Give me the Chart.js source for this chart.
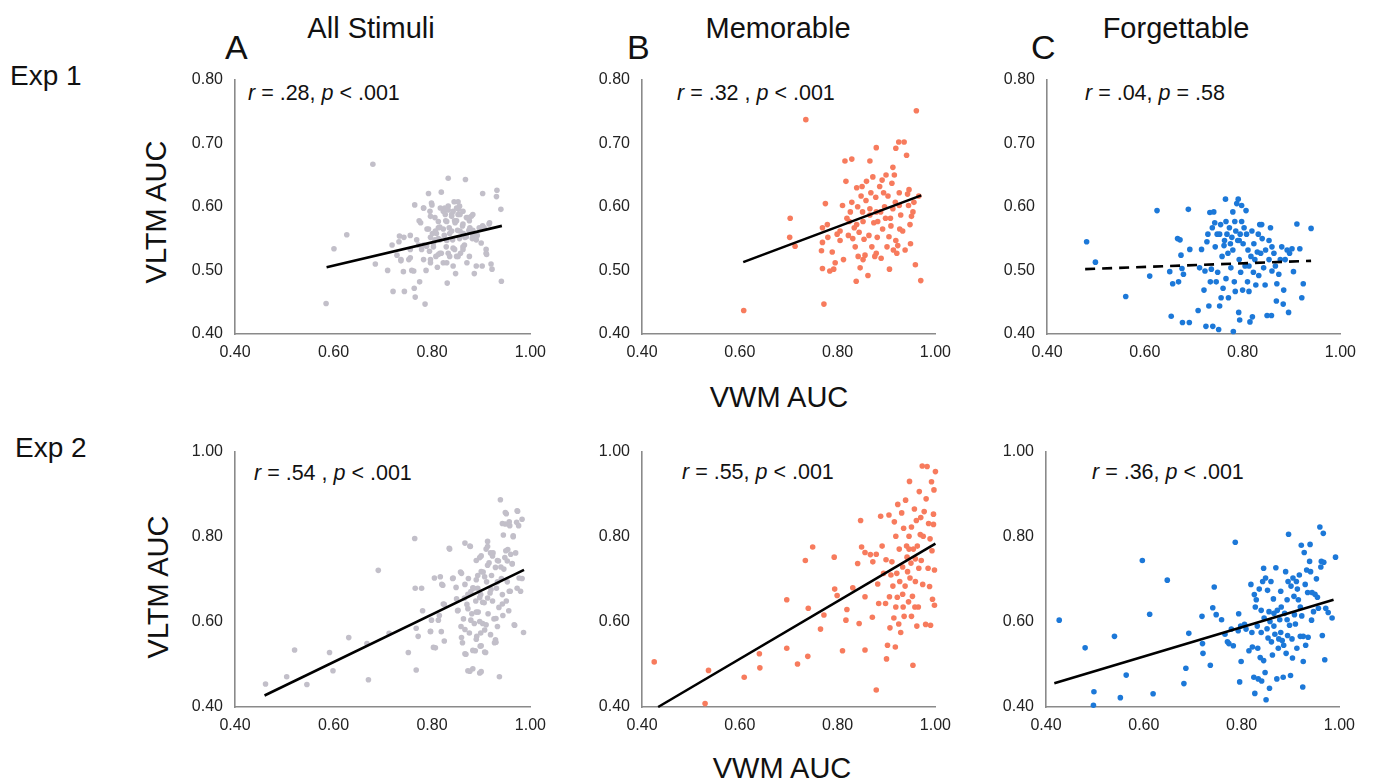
<!DOCTYPE html>
<html lang="en">
<head>
  <meta charset="UTF-8" />
  <title>VWM vs VLTM AUC</title>
  <script src="https://cdn.jsdelivr.net/npm/chart.js"></script>
  <style>
    body { margin: 0; background: #fff; font-family: "Liberation Sans", Arial, sans-serif; color: #111; }
    #page { position: relative; width: 1375px; height: 778px; overflow: hidden; }
    .t { position: absolute; white-space: nowrap; line-height: 1; }
    .title { font-size: 29px; transform: translateX(-50%); }
    .letter { font-size: 34px; }
    .exp { font-size: 28px; }
    .ylab { font-size: 29px; transform: translate(-50%, -50%) rotate(-90deg); }
    .xlab { font-size: 29px; transform: translateX(-50%); }
    .stat { font-size: 21.5px; }
    canvas { position: absolute; }
  </style>
</head>
<body>
<div id="page">
  <div class="t title" style="left:371px; top:14px;">All Stimuli</div>
  <div class="t title" style="left:778px; top:14px;">Memorable</div>
  <div class="t title" style="left:1176px; top:14px;">Forgettable</div>

  <div class="t letter" style="left:225px; top:30px;">A</div>
  <div class="t letter" style="left:627px; top:30px;">B</div>
  <div class="t letter" style="left:1031px; top:30px;">C</div>

  <div class="t exp" style="left:10px; top:62px;">Exp 1</div>
  <div class="t exp" style="left:15px; top:434px;">Exp 2</div>

  <div class="t ylab" style="left:156px; top:212px;">VLTM AUC</div>
  <div class="t ylab" style="left:158px; top:587px;">VLTM AUC</div>
  <div class="t xlab" style="left:779px; top:383px;">VWM AUC</div>
  <div class="t xlab" style="left:782px; top:754px;">VWM AUC</div>

  <div class="t stat" style="left:248px; top:83px;"><i>r</i> = .28, <i>p</i> &lt; .001</div>
  <div class="t stat" style="left:677px; top:83px;"><i>r</i> = .32 , <i>p</i> &lt; .001</div>
  <div class="t stat" style="left:1085px; top:83px;"><i>r</i> = .04, <i>p</i> = .58</div>
  <div class="t stat" style="left:254px; top:463px;"><i>r</i> = .54 , <i>p</i> &lt; .001</div>
  <div class="t stat" style="left:682px; top:462px;"><i>r</i> = .55, <i>p</i> &lt; .001</div>
  <div class="t stat" style="left:1092px; top:462px;"><i>r</i> = .36, <i>p</i> &lt; .001</div>

  <canvas id="a1"></canvas>
  <canvas id="b1"></canvas>
  <canvas id="c1"></canvas>
  <canvas id="a2"></canvas>
  <canvas id="b2"></canvas>
  <canvas id="c2"></canvas>
</div>

<script>
  // tick values
  const xTicks = [0.4, 0.6, 0.8, 1.0];
  const yTicksExp1 = [0.4, 0.5, 0.6, 0.7, 0.8];
  const yTicksExp2 = [0.4, 0.6, 0.8, 1.0];

  // Exp 1 points, [VWM AUC, VLTM AUC]
  const exp1All = [[0.585,0.448],[0.601,0.534],[0.627,0.556],[0.680,0.667],[0.685,0.510],[0.710,0.500],[0.719,0.540],[0.721,0.467],[0.729,0.524],[0.734,0.554],[0.737,0.515],[0.742,0.498],[0.744,0.467],[0.756,0.555],[0.756,0.520],[0.759,0.500],[0.764,0.472],[0.765,0.603],[0.766,0.458],[0.769,0.548],[0.774,0.578],[0.775,0.482],[0.779,0.533],[0.783,0.598],[0.783,0.517],[0.786,0.447],[0.788,0.500],[0.793,0.621],[0.793,0.565],[0.795,0.530],[0.797,0.512],[0.799,0.606],[0.801,0.558],[0.803,0.543],[0.806,0.583],[0.808,0.522],[0.811,0.505],[0.813,0.567],[0.816,0.548],[0.819,0.623],[0.819,0.527],[0.823,0.593],[0.823,0.512],[0.825,0.555],[0.828,0.578],[0.829,0.537],[0.831,0.480],[0.833,0.645],[0.833,0.601],[0.835,0.567],[0.836,0.522],[0.840,0.588],[0.842,0.548],[0.843,0.507],[0.845,0.608],[0.846,0.533],[0.848,0.495],[0.850,0.578],[0.852,0.563],[0.854,0.596],[0.856,0.550],[0.858,0.527],[0.862,0.570],[0.864,0.558],[0.866,0.540],[0.868,0.643],[0.870,0.583],[0.871,0.512],[0.875,0.563],[0.876,0.522],[0.880,0.585],[0.882,0.550],[0.886,0.495],[0.890,0.507],[0.892,0.555],[0.896,0.567],[0.900,0.543],[0.902,0.507],[0.903,0.621],[0.906,0.567],[0.910,0.533],[0.911,0.525],[0.916,0.573],[0.920,0.510],[0.922,0.502],[0.932,0.626],[0.931,0.616],[0.940,0.596],[0.941,0.483],[0.796,0.593],[0.806,0.548],[0.816,0.568],[0.826,0.598],[0.843,0.593],[0.853,0.588],[0.856,0.601],[0.863,0.593],[0.876,0.578],[0.846,0.578],[0.836,0.558],[0.823,0.565],[0.809,0.558],[0.789,0.538],[0.783,0.540],[0.773,0.540],[0.756,0.533],[0.816,0.527],[0.830,0.512],[0.850,0.522],[0.863,0.533],[0.870,0.553],[0.883,0.563],[0.890,0.548],
    [0.853,0.608],[0.783,0.598],[0.800,0.603],[0.817,0.598],[0.833,0.595],[0.850,0.598],[0.827,0.588],[0.840,0.585],[0.857,0.588],[0.873,0.583],[0.883,0.588],[0.797,0.585],[0.777,0.575],[0.813,0.577],[0.830,0.577],[0.847,0.575],[0.863,0.573],[0.790,0.565],[0.807,0.562],[0.840,0.562],[0.857,0.562],[0.877,0.567],[0.903,0.570],[0.797,0.552],[0.813,0.550],[0.830,0.547],[0.867,0.552],[0.883,0.555],[0.803,0.537],[0.843,0.535],[0.863,0.537],[0.813,0.525],[0.833,0.527],[0.853,0.522],[0.797,0.517],[0.743,0.552],[0.733,0.545],[0.737,0.517],[0.753,0.517],[0.763,0.499],[0.917,0.575],[0.910,0.527]];
  const exp1Mem = [[0.608,0.437],[0.703,0.582],[0.702,0.552],[0.713,0.538],[0.735,0.737],[0.769,0.567],[0.769,0.544],[0.767,0.531],[0.769,0.503],[0.772,0.447],[0.775,0.605],[0.779,0.572],[0.780,0.552],[0.784,0.499],[0.789,0.529],[0.792,0.502],[0.795,0.512],[0.799,0.557],[0.805,0.547],[0.810,0.602],[0.812,0.517],[0.815,0.672],[0.817,0.640],[0.819,0.582],[0.822,0.555],[0.824,0.577],[0.829,0.675],[0.829,0.607],[0.831,0.550],[0.834,0.567],[0.836,0.537],[0.838,0.483],[0.839,0.630],[0.841,0.600],[0.842,0.522],[0.844,0.560],[0.846,0.504],[0.848,0.617],[0.850,0.632],[0.851,0.592],[0.854,0.549],[0.856,0.524],[0.858,0.610],[0.859,0.640],[0.862,0.492],[0.864,0.555],[0.866,0.672],[0.868,0.622],[0.870,0.537],[0.872,0.647],[0.874,0.575],[0.876,0.522],[0.878,0.615],[0.879,0.693],[0.881,0.552],[0.882,0.577],[0.886,0.632],[0.888,0.592],[0.889,0.519],[0.891,0.642],[0.892,0.565],[0.894,0.622],[0.896,0.600],[0.898,0.582],[0.899,0.650],[0.901,0.537],[0.903,0.617],[0.905,0.553],[0.906,0.502],[0.908,0.582],[0.909,0.570],[0.911,0.637],[0.913,0.662],[0.914,0.532],[0.916,0.650],[0.918,0.607],[0.919,0.692],[0.921,0.527],[0.923,0.539],[0.925,0.702],[0.926,0.622],[0.927,0.565],[0.929,0.587],[0.933,0.562],[0.936,0.702],[0.938,0.532],[0.941,0.681],[0.943,0.620],[0.945,0.602],[0.946,0.627],[0.948,0.572],[0.949,0.542],[0.951,0.585],[0.954,0.592],[0.956,0.607],[0.959,0.509],[0.961,0.751],[0.970,0.484],[0.966,0.617],[0.826,0.592],[0.852,0.577],[0.866,0.587],[0.879,0.592],[0.913,0.597],[0.926,0.602],[0.852,0.517],[0.879,0.527],[0.919,0.547],[0.839,0.572],[0.805,0.562],[0.866,0.597]];
  const exp1Forg = [[0.481,0.545],[0.499,0.513],[0.561,0.459],[0.610,0.491],[0.625,0.594],[0.651,0.498],[0.654,0.428],[0.657,0.479],[0.667,0.550],[0.669,0.482],[0.672,0.548],[0.674,0.524],[0.676,0.503],[0.677,0.418],[0.679,0.494],[0.689,0.596],[0.691,0.418],[0.692,0.533],[0.709,0.437],[0.712,0.504],[0.716,0.533],[0.721,0.469],[0.723,0.499],[0.725,0.412],[0.727,0.545],[0.729,0.557],[0.731,0.444],[0.733,0.591],[0.734,0.482],[0.736,0.502],[0.738,0.567],[0.739,0.412],[0.741,0.592],[0.743,0.575],[0.744,0.537],[0.746,0.482],[0.748,0.557],[0.749,0.497],[0.751,0.407],[0.753,0.444],[0.755,0.572],[0.756,0.457],[0.758,0.522],[0.760,0.472],[0.762,0.539],[0.763,0.547],[0.765,0.612],[0.766,0.487],[0.768,0.557],[0.770,0.527],[0.771,0.457],[0.773,0.567],[0.775,0.542],[0.776,0.504],[0.778,0.552],[0.780,0.532],[0.781,0.404],[0.783,0.482],[0.784,0.577],[0.785,0.467],[0.786,0.562],[0.788,0.605],[0.790,0.547],[0.791,0.612],[0.792,0.434],[0.793,0.517],[0.794,0.422],[0.795,0.557],[0.796,0.497],[0.798,0.577],[0.798,0.602],[0.800,0.469],[0.801,0.542],[0.803,0.567],[0.805,0.507],[0.807,0.594],[0.808,0.557],[0.810,0.482],[0.811,0.532],[0.813,0.467],[0.815,0.419],[0.817,0.522],[0.819,0.562],[0.820,0.427],[0.822,0.497],[0.823,0.542],[0.825,0.517],[0.827,0.477],[0.830,0.529],[0.832,0.557],[0.833,0.492],[0.835,0.572],[0.837,0.527],[0.839,0.572],[0.840,0.550],[0.843,0.504],[0.846,0.477],[0.847,0.532],[0.850,0.429],[0.854,0.517],[0.857,0.567],[0.859,0.429],[0.860,0.499],[0.864,0.527],[0.867,0.507],[0.869,0.452],[0.870,0.479],[0.874,0.494],[0.877,0.517],[0.880,0.537],[0.883,0.447],[0.884,0.469],[0.887,0.517],[0.891,0.532],[0.894,0.434],[0.896,0.527],[0.901,0.534],[0.904,0.498],[0.911,0.573],[0.917,0.534],[0.921,0.457],[0.924,0.479],[0.940,0.566],[0.753,0.557],[0.766,0.577],[0.793,0.547],[0.780,0.592],[0.813,0.507],[0.854,0.547],[0.860,0.537]];

  // Exp 2 points
  const exp2All = [[0.462,0.454],[0.505,0.471],[0.521,0.534],[0.546,0.453],[0.592,0.528],[0.599,0.485],[0.631,0.563],[0.668,0.549],[0.671,0.464],[0.691,0.721],[0.713,0.573],[0.752,0.528],[0.765,0.796],[0.766,0.679],[0.768,0.487],[0.768,0.585],[0.772,0.566],[0.779,0.679],[0.781,0.626],[0.797,0.577],[0.799,0.604],[0.805,0.703],[0.807,0.539],[0.815,0.615],[0.819,0.577],[0.822,0.686],[0.825,0.555],[0.825,0.641],[0.836,0.771],[0.842,0.702],[0.849,0.681],[0.852,0.626],[0.858,0.717],[0.859,0.589],[0.862,0.551],[0.864,0.607],[0.866,0.656],[0.867,0.785],[0.869,0.524],[0.871,0.641],[0.873,0.485],[0.874,0.702],[0.876,0.574],[0.878,0.777],[0.879,0.671],[0.881,0.619],[0.883,0.490],[0.885,0.679],[0.886,0.596],[0.888,0.532],[0.889,0.649],[0.891,0.566],[0.893,0.709],[0.894,0.623],[0.897,0.751],[0.898,0.543],[0.899,0.664],[0.900,0.483],[0.903,0.596],[0.904,0.717],[0.906,0.645],[0.907,0.581],[0.909,0.528],[0.911,0.694],[0.913,0.777],[0.914,0.619],[0.916,0.739],[0.918,0.668],[0.919,0.570],[0.921,0.709],[0.923,0.649],[0.924,0.762],[0.926,0.607],[0.927,0.551],[0.929,0.728],[0.931,0.679],[0.933,0.589],[0.935,0.743],[0.936,0.634],[0.937,0.471],[0.939,0.887],[0.941,0.702],[0.943,0.664],[0.944,0.615],[0.945,0.804],[0.946,0.724],[0.948,0.751],[0.949,0.830],[0.951,0.649],[0.951,0.854],[0.953,0.694],[0.954,0.770],[0.956,0.626],[0.958,0.826],[0.959,0.672],[0.963,0.736],[0.965,0.800],[0.968,0.592],[0.970,0.762],[0.972,0.834],[0.973,0.679],[0.974,0.860],[0.976,0.826],[0.980,0.672],[0.983,0.841],[0.983,0.702],[0.986,0.575],[0.893,0.679],[0.913,0.656],[0.933,0.694],[0.919,0.762],[0.879,0.604],[0.899,0.574],[0.929,0.558],[0.953,0.743],
    [0.949,0.857],[0.973,0.861],[0.943,0.831],[0.957,0.835],[0.965,0.802],[0.877,0.778],[0.913,0.789],[0.835,0.773],[0.910,0.771],[0.950,0.767],[0.900,0.755],[0.923,0.755],[0.960,0.759],[0.890,0.744],[0.933,0.744],[0.963,0.737],[0.913,0.733],[0.940,0.729],[0.900,0.718],[0.907,0.706],[0.817,0.706],[0.860,0.714],[0.843,0.703],[0.890,0.699],[0.977,0.703],[0.820,0.688],[0.867,0.688],[0.883,0.680],[0.920,0.676],[0.957,0.672],[0.873,0.665],[0.897,0.657],[0.850,0.654],[0.903,0.646],[0.943,0.642],[0.823,0.642],[0.873,0.631],[0.890,0.623],[0.853,0.627],[0.813,0.604],[0.897,0.601],[0.910,0.593],[0.930,0.608],[0.967,0.593],[0.867,0.582],[0.797,0.578],[0.860,0.563],[0.890,0.559],[0.930,0.552],[0.803,0.540],[0.883,0.533],[0.900,0.544],[0.867,0.525],[0.907,0.529],[0.877,0.484],[0.897,0.480]];
  const exp2Mem = [[0.425,0.506],[0.529,0.408],[0.536,0.486],[0.609,0.470],[0.640,0.525],[0.641,0.492],[0.696,0.538],[0.696,0.652],[0.718,0.501],[0.739,0.519],[0.740,0.632],[0.734,0.744],[0.749,0.776],[0.765,0.583],[0.772,0.616],[0.793,0.752],[0.794,0.677],[0.799,0.662],[0.810,0.532],[0.819,0.629],[0.817,0.604],[0.831,0.680],[0.841,0.737],[0.844,0.596],[0.847,0.838],[0.849,0.776],[0.856,0.763],[0.856,0.659],[0.856,0.534],[0.867,0.758],[0.871,0.611],[0.872,0.741],[0.879,0.759],[0.882,0.689],[0.884,0.643],[0.888,0.848],[0.891,0.778],[0.894,0.714],[0.898,0.643],[0.899,0.746],[0.900,0.513],[0.902,0.545],[0.905,0.851],[0.906,0.659],[0.907,0.586],[0.909,0.710],[0.911,0.741],[0.913,0.684],[0.915,0.609],[0.916,0.835],[0.918,0.541],[0.919,0.801],[0.921,0.714],[0.922,0.658],[0.923,0.876],[0.925,0.595],[0.926,0.771],[0.927,0.695],[0.929,0.575],[0.931,0.856],[0.933,0.729],[0.934,0.635],[0.935,0.820],[0.936,0.613],[0.938,0.684],[0.939,0.886],[0.941,0.778],[0.942,0.752],[0.943,0.718],[0.945,0.647],[0.946,0.801],[0.947,0.930],[0.948,0.703],[0.950,0.738],[0.951,0.613],[0.951,0.823],[0.953,0.660],[0.954,0.498],[0.955,0.771],[0.957,0.865],[0.958,0.635],[0.959,0.695],[0.961,0.838],[0.962,0.590],[0.963,0.778],[0.965,0.635],[0.966,0.726],[0.967,0.906],[0.969,0.805],[0.970,0.845],[0.971,0.744],[0.973,0.966],[0.974,0.688],[0.975,0.801],[0.977,0.859],[0.980,0.594],[0.981,0.889],[0.983,0.965],[0.985,0.726],[0.986,0.831],[0.988,0.683],[0.989,0.795],[0.990,0.592],[0.992,0.929],[0.993,0.767],[0.994,0.653],[0.996,0.829],[0.997,0.910],[0.998,0.722],[1.000,0.953],[0.998,0.639],[0.996,0.853],[0.879,0.440],[0.919,0.635],[0.933,0.665],[0.946,0.771],[0.959,0.748]];
  const exp2Forg = [[0.427,0.604],[0.480,0.539],[0.497,0.404],[0.498,0.436],[0.540,0.566],[0.552,0.422],[0.564,0.475],[0.597,0.744],[0.612,0.618],[0.619,0.431],[0.648,0.698],[0.682,0.455],[0.686,0.491],[0.692,0.573],[0.719,0.613],[0.720,0.549],[0.721,0.526],[0.736,0.498],[0.741,0.633],[0.744,0.682],[0.748,0.617],[0.759,0.605],[0.766,0.571],[0.771,0.553],[0.774,0.549],[0.779,0.583],[0.783,0.544],[0.787,0.787],[0.793,0.579],[0.794,0.619],[0.796,0.459],[0.798,0.590],[0.799,0.507],[0.806,0.594],[0.809,0.583],[0.815,0.532],[0.819,0.688],[0.821,0.575],[0.822,0.541],[0.825,0.470],[0.826,0.664],[0.827,0.432],[0.828,0.635],[0.830,0.652],[0.832,0.590],[0.833,0.538],[0.834,0.466],[0.836,0.677],[0.838,0.516],[0.840,0.627],[0.841,0.461],[0.843,0.695],[0.845,0.509],[0.845,0.726],[0.846,0.609],[0.848,0.481],[0.849,0.703],[0.850,0.417],[0.852,0.584],[0.853,0.674],[0.854,0.562],[0.856,0.624],[0.857,0.444],[0.858,0.601],[0.860,0.695],[0.861,0.553],[0.863,0.522],[0.865,0.654],[0.866,0.620],[0.868,0.571],[0.870,0.727],[0.872,0.466],[0.873,0.627],[0.875,0.538],[0.876,0.560],[0.878,0.605],[0.880,0.575],[0.881,0.635],[0.883,0.556],[0.885,0.470],[0.886,0.545],[0.888,0.620],[0.890,0.718],[0.891,0.526],[0.893,0.652],[0.894,0.568],[0.895,0.695],[0.896,0.806],[0.898,0.592],[0.900,0.474],[0.901,0.684],[0.903,0.560],[0.904,0.515],[0.905,0.703],[0.907,0.660],[0.908,0.617],[0.910,0.595],[0.912,0.695],[0.913,0.538],[0.914,0.677],[0.916,0.652],[0.918,0.710],[0.920,0.566],[0.922,0.780],[0.923,0.614],[0.925,0.447],[0.926,0.507],[0.926,0.566],[0.928,0.763],[0.930,0.688],[0.931,0.545],[0.933,0.722],[0.935,0.669],[0.936,0.564],[0.939,0.742],[0.940,0.782],[0.941,0.718],[0.943,0.604],[0.944,0.669],[0.947,0.624],[0.950,0.665],[0.953,0.701],[0.955,0.658],[0.957,0.632],[0.960,0.823],[0.962,0.729],[0.963,0.742],[0.965,0.568],[0.967,0.808],[0.968,0.740],[0.970,0.511],[0.972,0.632],[0.977,0.622],[0.985,0.609],[0.992,0.752],[0.840,0.575],[0.866,0.590],[0.893,0.605],[0.920,0.635],[0.880,0.672]];

  // regression line end points (x pair, y pair)
  const fitA1X = [0.586, 0.942], fitA1Y = [0.505, 0.570];
  const fitB1X = [0.607, 0.971], fitB1Y = [0.513, 0.618];
  const fitC1X = [0.478, 0.940], fitC1Y = [0.502, 0.515];
  const fitA2X = [0.460, 0.987], fitA2Y = [0.427, 0.722];
  const fitB2X = [0.433, 1.000], fitB2Y = [0.400, 0.784];
  const fitC2X = [0.417, 0.988], fitC2Y = [0.456, 0.652];

  const GRAY = '#c2bfc9', CORAL = '#f77b5d', BLUE = '#1c78d8';
  const tickFont = { family: '"Liberation Sans", Arial, sans-serif', size: 16 };
  const PAD_L = 70, PAD_T = 12, PAD_R = 20, PAD_B = 34;

  function panel(id, left, top, w, h, pts, fx, fy, color, yTicks, yMax, dashed) {
    const cv = document.getElementById(id);
    cv.width = PAD_L + w + PAD_R;
    cv.height = PAD_T + h + PAD_B;
    cv.style.left = (left - PAD_L) + 'px';
    cv.style.top = (top - PAD_T) + 'px';

    new Chart(cv, {
      type: 'scatter',
      data: {
        datasets: [
          {
            data: pts.map(p => ({ x: p[0], y: p[1] })),
            backgroundColor: color,
            borderWidth: 0,
            pointRadius: 2.8,
            clip: false,
            order: 1
          },
          {
            type: 'line',
            data: fx.map((x, i) => ({ x: x, y: fy[i] })),
            borderColor: '#000',
            borderWidth: 2.6,
            borderDash: dashed ? [10, 7] : [],
            pointRadius: 0,
            fill: false,
            clip: false,
            order: 0
          }
        ]
      },
      options: {
        responsive: false,
        animation: false,
        events: [],
        layout: { padding: { top: PAD_T, right: PAD_R, left: 0, bottom: 0 } },
        plugins: { legend: { display: false }, tooltip: { enabled: false } },
        scales: {
          x: {
            type: 'linear', min: 0.4, max: 1.0,
            afterBuildTicks: s => { s.ticks = xTicks.map(v => ({ value: v })); },
            afterFit: s => { s.height = PAD_B; },
            grid: { display: false, drawTicks: false },
            border: { color: '#8a8a8a', width: 1.6 },
            ticks: { padding: 9, color: '#222', font: tickFont, maxRotation: 0, callback: v => v.toFixed(2) }
          },
          y: {
            type: 'linear', min: 0.4, max: yMax,
            afterBuildTicks: s => { s.ticks = yTicks.map(v => ({ value: v })); },
            afterFit: s => { s.width = PAD_L; },
            grid: { display: false, drawTicks: false },
            border: { color: '#8a8a8a', width: 1.6 },
            ticks: { padding: 12, color: '#222', font: tickFont, callback: v => v.toFixed(2) }
          }
        }
      }
    });
  }

  panel('a1', 235, 70, 300, 264, exp1All, fitA1X, fitA1Y, GRAY, yTicksExp1, 0.8, false);
  panel('b1', 642, 70, 298, 264, exp1Mem, fitB1X, fitB1Y, CORAL, yTicksExp1, 0.8, false);
  panel('c1', 1047, 70, 298, 264, exp1Forg, fitC1X, fitC1Y, BLUE, yTicksExp1, 0.8, true);
  panel('a2', 235, 442, 300, 265, exp2All, fitA2X, fitA2Y, GRAY, yTicksExp2, 1.0, false);
  panel('b2', 642, 442, 298, 265, exp2Mem, fitB2X, fitB2Y, CORAL, yTicksExp2, 1.0, false);
  panel('c2', 1046, 442, 298, 265, exp2Forg, fitC2X, fitC2Y, BLUE, yTicksExp2, 1.0, false);
</script>
</body>
</html>
